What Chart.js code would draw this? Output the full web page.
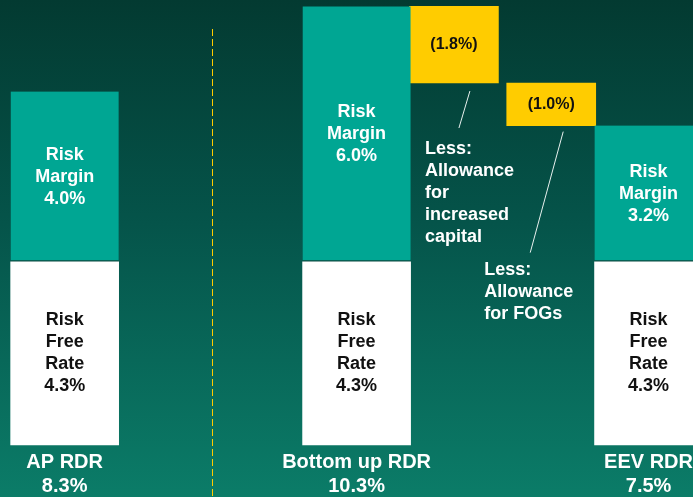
<!DOCTYPE html>
<html>
<head>
<meta charset="utf-8">
<script src="https://cdn.jsdelivr.net/npm/chart.js@4/dist/chart.umd.min.js"></script>
<style>
  html, body { margin: 0; padding: 0; overflow: hidden; }
  body {
    width: 693px; height: 497px;
    background: linear-gradient(180deg, #033a31 0%, #05544a 45%, #0b7c68 100%);
  }
  canvas { display: block; }
</style>
</head>
<body>
<canvas id="rdr" width="698" height="497"></canvas>
<script>
// categories (empty slots keep the spacing of the original slide)
const categories = [["AP RDR", "8.3%"], "", "", ["Bottom up RDR", "10.3%"], "", "", ["EEV RDR", "7.5%"]];
const riskFreeRate = [4.3, null, null, 4.3, null, null, 4.3];
const riskMargin = [4.0, null, null, 6.0, null, null, 3.2];
const allowances = [null, null, null, null, -1.8, -1.0, null];
const allowanceNotes = [["Less:", "Allowance", "for", "increased", "capital"], ["Less:", "Allowance", "for FOGs"]];

// floating ranges built from the values above
const rfRanges = [], rmRanges = [], allowRanges = [];
let running = null;
categories.forEach((c, i) => {
    if (riskFreeRate[i] != null) {
        rfRanges.push([0, riskFreeRate[i]]);
        rmRanges.push([riskFreeRate[i], riskFreeRate[i] + riskMargin[i]]);
        allowRanges.push(null);
        running = riskFreeRate[i] + riskMargin[i];
    } else if (allowances[i] != null) {
        rfRanges.push(null);
        rmRanges.push(null);
        allowRanges.push([running + allowances[i], running]);
        running += allowances[i];
    } else {
        rfRanges.push(null);
        rmRanges.push(null);
        allowRanges.push(null);
    }
});

const FONT = "Arial, 'Liberation Sans', sans-serif";

const barText = {
    id: "barText",
    afterDatasetsDraw(chart) {
        const { ctx } = chart;
        const textFor = [
            i => riskFreeRate[i] == null ? null : ["Risk", "Free", "Rate", riskFreeRate[i].toFixed(1) + "%"],
            i => riskMargin[i] == null ? null : ["Risk", "Margin", riskMargin[i].toFixed(1) + "%"],
            i => allowances[i] == null ? null : ["(" + Math.abs(allowances[i]).toFixed(1) + "%)"]
        ];
        const colors = ["#111", "#fff", "#111"];
        const sizes = [18, 18, 16];

        ctx.save();
        ctx.textAlign = "center";
        ctx.textBaseline = "middle";
        chart.data.datasets.forEach((ds, di) => {
            const meta = chart.getDatasetMeta(di);
            meta.data.forEach((bar, i) => {
                const lines = textFor[di](i);
                if (!lines) return;
                const lh = 22;
                const cy = (bar.y + bar.base) / 2;
                ctx.fillStyle = colors[di];
                ctx.font = `bold ${sizes[di]}px ${FONT}`;
                lines.forEach((t, k) => {
                    ctx.fillText(t, bar.x, cy + (k - (lines.length - 1) / 2) * lh);
                });
            });
        });
        ctx.restore();
    }
};

const slideNotes = {
    id: "slideNotes",
    afterDraw(chart) {
        const { ctx, chartArea, scales } = chart;
        ctx.save();

        // dashed divider between AP RDR and the walk
        const dx = Math.round(scales.x.getPixelForValue(1.5)) + 1.5;
        ctx.strokeStyle = "#ffcc00";
        ctx.lineWidth = 1;
        ctx.setLineDash([7, 3]);
        ctx.beginPath();
        ctx.moveTo(dx, chartArea.top + 29);
        ctx.lineTo(dx, chart.height);
        ctx.stroke();
        ctx.setLineDash([]);

        // notes under the allowance boxes
        const meta = chart.getDatasetMeta(2);
        const idx = allowances.map((v, i) => v == null ? -1 : i).filter(i => i >= 0);
        const place = [
            { tx: -29, ty: 66, l: [16, 8, 5, 45] },
            { tx: -67, ty: 144, l: [12, 6, -21, 127] }
        ];
        ctx.font = `bold 18px ${FONT}`;
        ctx.fillStyle = "#fff";
        ctx.strokeStyle = "#e8f0ee";
        ctx.textAlign = "left";
        ctx.textBaseline = "middle";
        idx.forEach((i, n) => {
            const bar = meta.data[i];
            const p = place[n];
            ctx.beginPath();
            ctx.moveTo(bar.x + p.l[0], bar.base + p.l[1]);
            ctx.lineTo(bar.x + p.l[2], bar.base + p.l[3]);
            ctx.stroke();
            allowanceNotes[n].forEach((t, k) => {
                ctx.fillText(t, bar.x + p.tx, bar.base + p.ty + k * 22);
            });
        });
        ctx.restore();
    }
};

new Chart(document.getElementById("rdr"), {
    type: "bar",
    plugins: [barText, slideNotes],
    data: {
        labels: categories,
        datasets: [
            {
                label: "Risk Free Rate",
                data: rfRanges,
                backgroundColor: "#ffffff",
                barThickness: 108,
                grouped: false,
                clip: false
            },
            {
                label: "Risk Margin",
                data: rmRanges,
                backgroundColor: "#00a693",
                borderColor: "#0a4a40",
                borderWidth: { top: 0, left: 0, right: 0, bottom: 2 },
                borderSkipped: false,
                barThickness: 108,
                grouped: false,
                clip: false
            },
            {
                label: "Allowances",
                data: allowRanges,
                backgroundColor: "#ffcc00",
                barThickness: 89,
                grouped: false,
                clip: false
            }
        ]
    },
    options: {
        responsive: false,
        animation: false,
        layout: { padding: { left: 16, top: 0, right: 0, bottom: -6 } },
        plugins: {
            legend: { display: false },
            tooltip: { enabled: false }
        },
        scales: {
            x: {
                grid: { display: false, drawTicks: false },
                border: { display: false },
                ticks: {
                    color: "#fff",
                    font: { family: FONT, size: 20, weight: "bold", lineHeight: 1.2 },
                    padding: 5,
                    autoSkip: false,
                    maxRotation: 0,
                    minRotation: 0
                }
            },
            y: {
                display: false,
                min: 0,
                max: 10.45
            }
        }
    }
});
</script>
</body>
</html>
